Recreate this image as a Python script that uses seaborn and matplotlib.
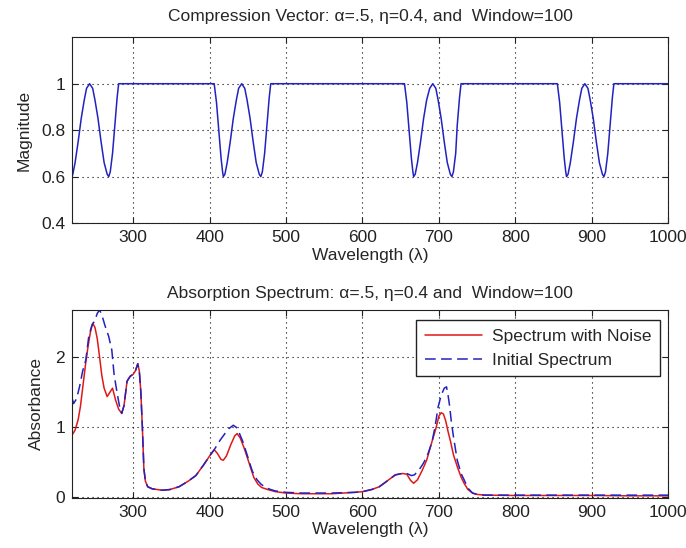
import matplotlib
matplotlib.use("Agg")
import matplotlib.pyplot as plt
import seaborn as sns
import pandas as pd

# ---------------- data ----------------
# Compression vector (top panel)
comp_wl = [220, 221, 224, 228, 232, 236, 239, 243, 247, 250, 254, 258, 262, 266, 268, 270, 273, 276, 279, 281,
           406, 409, 412, 415, 417, 418, 420, 423, 427, 431, 435, 438, 442, 446, 449, 453, 457, 461, 465, 467,
           469, 472, 475, 478, 480,
           655, 658, 661, 664, 666, 667, 669, 672, 676, 680, 684, 688, 692, 696, 699, 703, 707, 711, 715, 717,
           719, 722, 724, 727, 729,
           855, 858, 861, 864, 866, 867, 869, 872, 876, 880, 884, 887, 891, 895, 898, 902, 906, 910, 914, 916,
           918, 921, 924, 927, 929, 1000]
comp_mag = [0.60, 0.61, 0.66, 0.75, 0.85, 0.93, 0.98, 1.00, 0.98, 0.93, 0.85, 0.75, 0.66, 0.61, 0.60, 0.62, 0.70, 0.82, 0.94, 1.00,
            1.00, 0.92, 0.80, 0.68, 0.62, 0.60, 0.61, 0.66, 0.75, 0.85, 0.93, 0.98, 1.00, 0.98, 0.93, 0.85, 0.75, 0.66, 0.61, 0.60,
            0.62, 0.70, 0.82, 0.94, 1.00,
            1.00, 0.92, 0.80, 0.68, 0.62, 0.60, 0.61, 0.66, 0.75, 0.85, 0.93, 0.98, 1.00, 0.98, 0.93, 0.85, 0.75, 0.66, 0.61, 0.60,
            0.62, 0.70, 0.82, 0.94, 1.00,
            1.00, 0.92, 0.80, 0.68, 0.62, 0.60, 0.61, 0.66, 0.75, 0.85, 0.93, 0.98, 1.00, 0.98, 0.93, 0.85, 0.75, 0.66, 0.61, 0.60,
            0.62, 0.70, 0.82, 0.94, 1.00, 1.00]

# Spectrum with noise (red)
noisy_wl = [220, 224, 228, 231, 235, 238, 241, 244, 247, 250, 253, 256, 259, 262, 266, 270, 273, 277, 281, 285,
            288, 292, 296, 300, 303, 306, 308, 310, 312, 314, 316, 319, 325, 338, 348, 360, 372, 382, 392, 400,
            406, 410, 415, 418, 422, 428, 433, 436, 440, 445, 449, 454, 458, 463, 468, 476, 486, 500, 520, 560,
            590, 600, 612, 622, 632, 643, 652, 658, 663, 667, 672, 678, 684, 690, 696, 700, 703, 706, 709, 712,
            715, 719, 724, 729, 733, 738, 744, 750, 760, 800, 850, 900, 950, 1000]
noisy_abs = [0.88, 0.95, 1.10, 1.29, 1.65, 1.92, 2.15, 2.35, 2.48, 2.42, 2.26, 2.00, 1.73, 1.55, 1.43, 1.50, 1.55, 1.38, 1.25, 1.19,
             1.30, 1.65, 1.72, 1.75, 1.80, 1.90, 1.80, 1.50, 1.00, 0.40, 0.22, 0.14, 0.11, 0.09, 0.10, 0.14, 0.22, 0.30, 0.45, 0.58,
             0.67, 0.62, 0.53, 0.52, 0.58, 0.75, 0.87, 0.90, 0.84, 0.70, 0.57, 0.40, 0.27, 0.18, 0.13, 0.10, 0.07, 0.05, 0.04, 0.04,
             0.06, 0.07, 0.10, 0.14, 0.22, 0.31, 0.33, 0.32, 0.23, 0.19, 0.24, 0.37, 0.52, 0.75, 0.97, 1.15, 1.20, 1.18, 1.08, 0.93,
             0.80, 0.60, 0.43, 0.28, 0.19, 0.10, 0.05, 0.03, 0.02, 0.015, 0.015, 0.015, 0.01, 0.01]

# Initial spectrum (blue dashed)
init_wl = [220, 222, 226, 230, 234, 238, 242, 246, 250, 253, 256, 259, 263, 268, 272, 275, 279, 282, 285,
           288, 292, 296, 300, 303, 306, 308, 310, 312, 314, 316, 319, 325, 338, 348, 360, 372, 382, 392, 400,
           406, 410, 414, 420, 425, 431, 435, 438, 443, 449, 453, 456, 462, 467, 473, 480, 486, 500, 520, 560,
           590, 600, 612, 622, 632, 643, 652, 658, 664, 668, 674, 680, 686, 691, 695, 699, 703, 707, 710, 712,
           714, 716, 719, 724, 729, 733, 738, 744, 750, 760, 800, 850, 900, 950, 1000]
init_abs = [1.41, 1.33, 1.40, 1.58, 1.80, 1.95, 2.30, 2.45, 2.52, 2.62, 2.67, 2.60, 2.45, 2.29, 2.10, 1.75, 1.48, 1.30, 1.19,
            1.30, 1.65, 1.72, 1.75, 1.80, 1.90, 1.80, 1.50, 1.00, 0.40, 0.22, 0.14, 0.11, 0.09, 0.10, 0.14, 0.22, 0.30, 0.45, 0.58,
            0.67, 0.74, 0.81, 0.90, 0.97, 1.02, 0.99, 0.93, 0.80, 0.60, 0.46, 0.36, 0.24, 0.18, 0.13, 0.10, 0.08, 0.06, 0.05, 0.05,
            0.06, 0.07, 0.10, 0.14, 0.22, 0.31, 0.33, 0.33, 0.30, 0.31, 0.38, 0.48, 0.62, 0.78, 1.00, 1.28, 1.45, 1.55, 1.57, 1.45,
            1.30, 1.10, 0.86, 0.52, 0.33, 0.24, 0.12, 0.05, 0.03, 0.02, 0.02, 0.02, 0.02, 0.02, 0.02]

x_ticks = [300, 400, 500, 600, 700, 800, 900, 1000]
top_yticks = [0.4, 0.6, 0.8, 1.0]
top_yticklabels = ["0.4", "0.6", "0.8", "1"]
bot_yticks = [0, 1, 2]

top_title = "Compression Vector: \u03b1=.5, \u03b7=0.4, and  Window=100"
bot_title = "Absorption Spectrum: \u03b1=.5, \u03b7=0.4 and  Window=100"
x_label = "Wavelength (\u03bb)"
legend_labels = ["Spectrum with Noise", "Initial Spectrum"]

# ---------------- style ----------------
sns.set_theme(style="white")
plt.rcParams["font.family"] = ["Liberation Sans", "DejaVu Sans"]
plt.rcParams["font.size"] = 12.5
plt.rcParams["axes.edgecolor"] = "#222222"
plt.rcParams["axes.linewidth"] = 0.8

fig = plt.figure(figsize=(6.86, 5.48), dpi=100, facecolor="white")
ax1 = fig.add_axes([0.105, 0.593, 0.869, 0.339])
ax2 = fig.add_axes([0.105, 0.092, 0.869, 0.342])

comp_df = pd.DataFrame({"wl": comp_wl, "mag": comp_mag})
noisy_df = pd.DataFrame({"wl": noisy_wl, "abs": noisy_abs})
init_df = pd.DataFrame({"wl": init_wl, "abs": init_abs})

blue = "#2222c0"
red = "#e01818"

sns.lineplot(data=comp_df, x="wl", y="mag", ax=ax1, color=blue, linewidth=1.1,
             estimator=None, sort=False)
sns.lineplot(data=noisy_df, x="wl", y="abs", ax=ax2, color=red, linewidth=1.1,
             estimator=None, sort=False, label=legend_labels[0])
sns.lineplot(data=init_df, x="wl", y="abs", ax=ax2, color=blue, linewidth=1.1,
             estimator=None, sort=False, label=legend_labels[1], linestyle=(0, (7, 3.5)))

grid_kw = dict(color="black", linestyle=(0, (1, 3.5)), linewidth=0.8)

for ax in (ax1, ax2):
    ax.set_xlim(220, 1000)
    ax.set_xticks(x_ticks)
    ax.grid(True, **grid_kw)
    ax.tick_params(direction="in", length=4, width=0.8, top=True, right=True,
                   bottom=True, left=True, labelsize=12.5, colors="#222222", pad=5)
    for s in ax.spines.values():
        s.set_visible(True)
        s.set_color("#222222")
    ax.set_xlabel(x_label, fontsize=12.5, labelpad=2)
    ax.set_facecolor("white")

ax1.set_ylim(0.4, 1.2)
ax1.set_yticks(top_yticks)
ax1.set_yticklabels(top_yticklabels)
ax1.set_ylabel("Magnitude", fontsize=12.5, labelpad=7)
ax1.set_title(top_title, fontsize=12.5, pad=12)

ax2.set_ylim(-0.015, 2.667)
ax2.set_yticks(bot_yticks)
ax2.set_ylabel("Absorbance", fontsize=12.5, labelpad=8)
ax2.set_title(bot_title, fontsize=12.5, pad=9)

leg = ax2.legend(loc="upper right", bbox_to_anchor=(0.987, 0.947), borderaxespad=0,
                 fancybox=False, frameon=True, edgecolor="#222222", framealpha=1,
                 fontsize=12.5, handlelength=3.3, handletextpad=0.6, labelspacing=0.5,
                 borderpad=0.5)
leg.get_frame().set_linewidth(1.0)

fig.savefig("out.png", dpi=100, facecolor="white")
